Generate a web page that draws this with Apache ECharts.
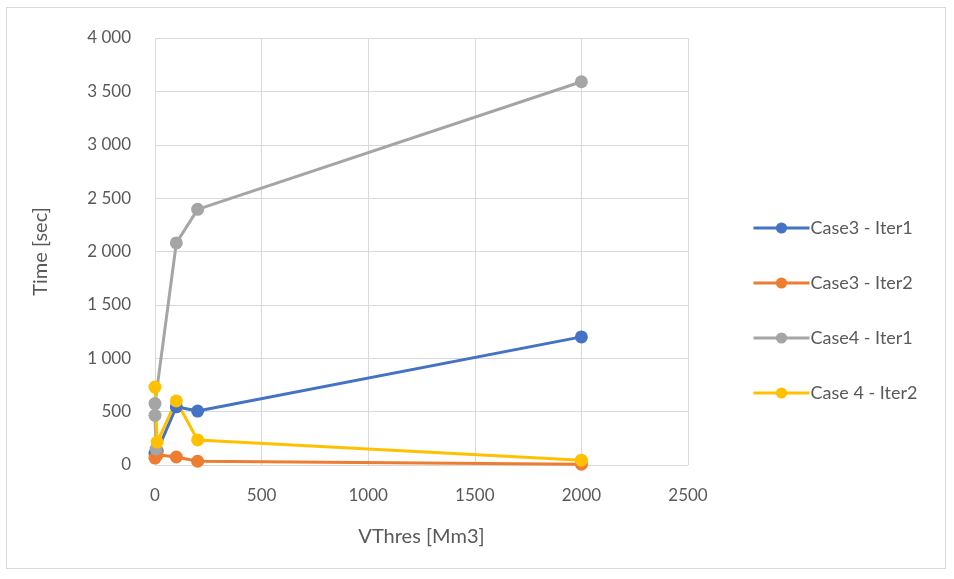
<!DOCTYPE html>
<html>
<head>
<meta charset="utf-8">
<script src="https://cdn.jsdelivr.net/npm/echarts@6/dist/echarts.min.js"></script>
<style>
  html, body { margin: 0; padding: 0; background: #fff; }
  #frame { position: absolute; left: 6px; top: 7px; width: 940px; height: 562px; border: 1px solid #d9d9d9; box-sizing: border-box; }
  #chart { width: 954px; height: 579px; }
</style>
</head>
<body>
<div id="frame"></div>
<div id="chart"></div>
<script>
// VThres [Mm3] vs. run time [sec] for each case / iteration
const seriesNames = ['Case3 - Iter1', 'Case3 - Iter2', 'Case4 - Iter1', 'Case 4 - Iter2'];
const seriesColors = ['#4472C4', '#ED7D31', '#A5A5A5', '#FFC000'];

const case3Iter1X = [0, 10, 100, 200, 2000];
const case3Iter1Y = [110, 130, 545, 505, 1200];

const case3Iter2X = [0, 10, 100, 200, 2000];
const case3Iter2Y = [65, 95, 75, 35, 8];

const case4Iter1X = [5, 0, 0, 100, 200, 2000];
const case4Iter1Y = [150, 465, 575, 2080, 2395, 3590];

const case4Iter2X = [0, 10, 100, 200, 2000];
const case4Iter2Y = [730, 215, 600, 235, 45];

const xTicks = [0, 500, 1000, 1500, 2000, 2500];
const yTicks = [0, 500, 1000, 1500, 2000, 2500, 3000, 3500, 4000];

const allX = [case3Iter1X, case3Iter2X, case4Iter1X, case4Iter2X];
const allY = [case3Iter1Y, case3Iter2Y, case4Iter1Y, case4Iter2Y];

const font = 'Lato, "Open Sans", sans-serif';
const textColor = '#595959';

function spaced(v) {
  return String(v).replace(/\B(?=(\d{3})+(?!\d))/g, ' ');
}

const series = seriesNames.map((name, i) => ({
  name: name,
  type: 'line',
  data: allX[i].map((x, k) => [x, allY[i][k]]),
  symbol: 'circle',
  symbolSize: 13,
  lineStyle: { width: 3, color: seriesColors[i] },
  itemStyle: { color: seriesColors[i] },
  emphasis: { disabled: true },
  animation: false
}));

const chart = echarts.init(document.getElementById('chart'), null, { renderer: 'canvas' });
chart.setOption({
  backgroundColor: 'transparent',
  textStyle: { fontFamily: font },
  grid: { left: 155, top: 38, width: 533, height: 427, containLabel: false },
  xAxis: {
    type: 'value',
    min: xTicks[0],
    max: xTicks[xTicks.length - 1],
    interval: 500,
    name: 'VThres [Mm3]',
    nameLocation: 'middle',
    nameGap: 62,
    nameTextStyle: { fontSize: 20, color: textColor, fontFamily: font },
    axisLine: { show: false },
    axisTick: { show: false },
    axisLabel: { fontSize: 17, color: textColor, margin: 22, fontFamily: font, formatter: (v) => String(v) },
    splitLine: { show: true, lineStyle: { color: '#d9d9d9', width: 1 } }
  },
  yAxis: {
    type: 'value',
    min: yTicks[0],
    max: yTicks[yTicks.length - 1],
    interval: 500,
    name: 'Time [sec]',
    nameLocation: 'middle',
    nameGap: 104,
    nameRotate: 90,
    nameTextStyle: { fontSize: 20, color: textColor, fontFamily: font },
    axisLine: { show: false },
    axisTick: { show: false },
    axisLabel: { fontSize: 17, color: textColor, margin: 24, fontFamily: font, formatter: spaced },
    splitLine: { show: true, lineStyle: { color: '#d9d9d9', width: 1 } }
  },
  legend: {
    orient: 'vertical',
    left: 747,
    top: 214,
    itemWidth: 56,
    itemHeight: 14,
    itemGap: 37,
    itemStyle: { borderWidth: 0 },
    lineStyle: { width: 3 },
    textStyle: { fontSize: 18, color: textColor, fontFamily: font, padding: [0, 0, 0, -4] },
    data: seriesNames
  },
  series: series
});
</script>
</body>
</html>
